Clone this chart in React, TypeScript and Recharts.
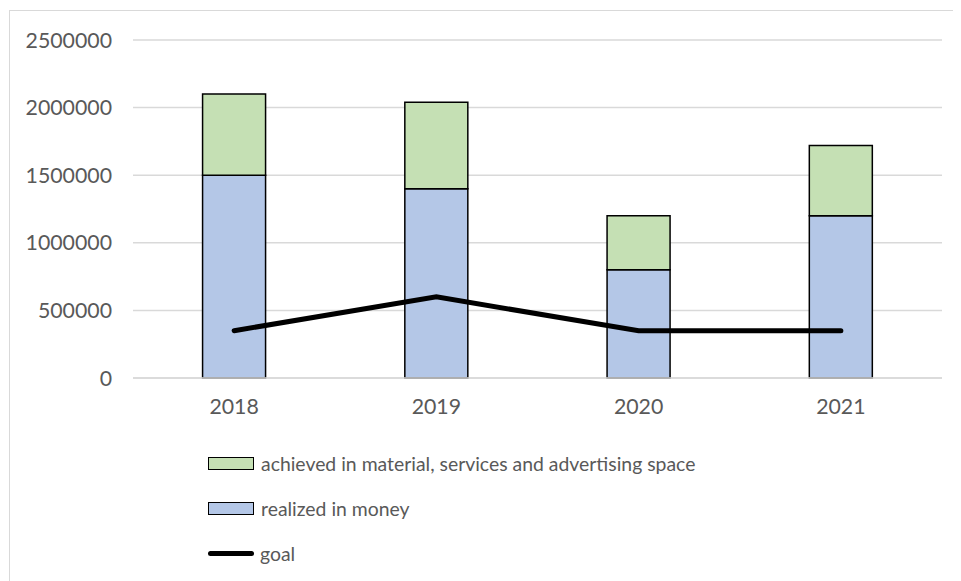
import React from "react"
import { ComposedChart, Bar, Line, XAxis, YAxis, CartesianGrid } from "recharts"

const years = ["2018", "2019", "2020", "2021"]
const realizedInMoney = [1500000, 1400000, 800000, 1200000]
const achievedInKind = [600000, 640000, 400000, 520000]
const goal = [350000, 600000, 350000, 350000]
const yTicks = [0, 500000, 1000000, 1500000, 2000000, 2500000]

const legendItems = [
    { label: "achieved in material, services and advertising space", color: "#c5e0b4", kind: "bar" },
    { label: "realized in money", color: "#b4c7e7", kind: "bar" },
    { label: "goal", color: "#000000", kind: "line" },
]

const data = years.map((year, i) => ({
    year,
    realized: realizedInMoney[i],
    achieved: achievedInKind[i],
    goal: goal[i],
}))

const font = "Lato, 'Open Sans', sans-serif"
const textColor = "#595959"

export default function App() {
    return (
        <div
            style={{
                position: "relative",
                marginTop: 2,
                marginLeft: 1,
                width: 990,
                height: 600,
                border: "1px solid #d9d9d9",
                boxSizing: "border-box",
                fontFamily: font,
            }}
        >
            <ComposedChart
                width={950}
                height={430}
                data={data}
                margin={{ top: 29, right: 18, left: 0, bottom: 23 }}
                barCategoryGap="34.4%"
            >
                <CartesianGrid vertical={false} stroke="#d9d9d9" strokeWidth={1.5} />
                <XAxis
                    dataKey="year"
                    height={40}
                    axisLine={{ stroke: "#d9d9d9", strokeWidth: 1.5 }}
                    tickLine={false}
                    tickMargin={15}
                    tick={{ fontSize: 21.3, fill: textColor, fontFamily: font }}
                />
                <YAxis
                    width={123}
                    domain={[0, 2500000]}
                    ticks={yTicks}
                    interval={0}
                    axisLine={false}
                    tickLine={false}
                    tickMargin={15}
                    tick={{ fontSize: 21.3, fill: textColor, fontFamily: font }}
                />
                <Bar dataKey="realized" stackId="a" fill="#b4c7e7" stroke="#000" strokeWidth={1.5} isAnimationActive={false} />
                <Bar dataKey="achieved" stackId="a" fill="#c5e0b4" stroke="#000" strokeWidth={1.5} isAnimationActive={false} />
                <Line
                    dataKey="goal"
                    type="linear"
                    stroke="#000"
                    strokeWidth={5}
                    strokeLinecap="round"
                    dot={false}
                    activeDot={false}
                    isAnimationActive={false}
                />
            </ComposedChart>
            {legendItems.map((item, i) => (
                <div
                    key={item.label}
                    style={{
                        position: "absolute",
                        left: 198,
                        top: 452 + i * 45 - 14,
                        height: 28,
                        display: "flex",
                        alignItems: "center",
                        fontSize: 19.4,
                        color: textColor,
                        whiteSpace: "nowrap",
                    }}
                >
                    {item.kind === "bar" ? (
                        <span
                            style={{
                                display: "inline-block",
                                width: 44,
                                height: 11,
                                background: item.color,
                                border: "1.5px solid #000",
                                marginRight: 7,
                            }}
                        />
                    ) : (
                        <span
                            style={{
                                display: "inline-block",
                                width: 46,
                                height: 5,
                                borderRadius: 3,
                                background: item.color,
                                marginRight: 6,
                            }}
                        />
                    )}
                    <span>{item.label}</span>
                </div>
            ))}
        </div>
    )
}
